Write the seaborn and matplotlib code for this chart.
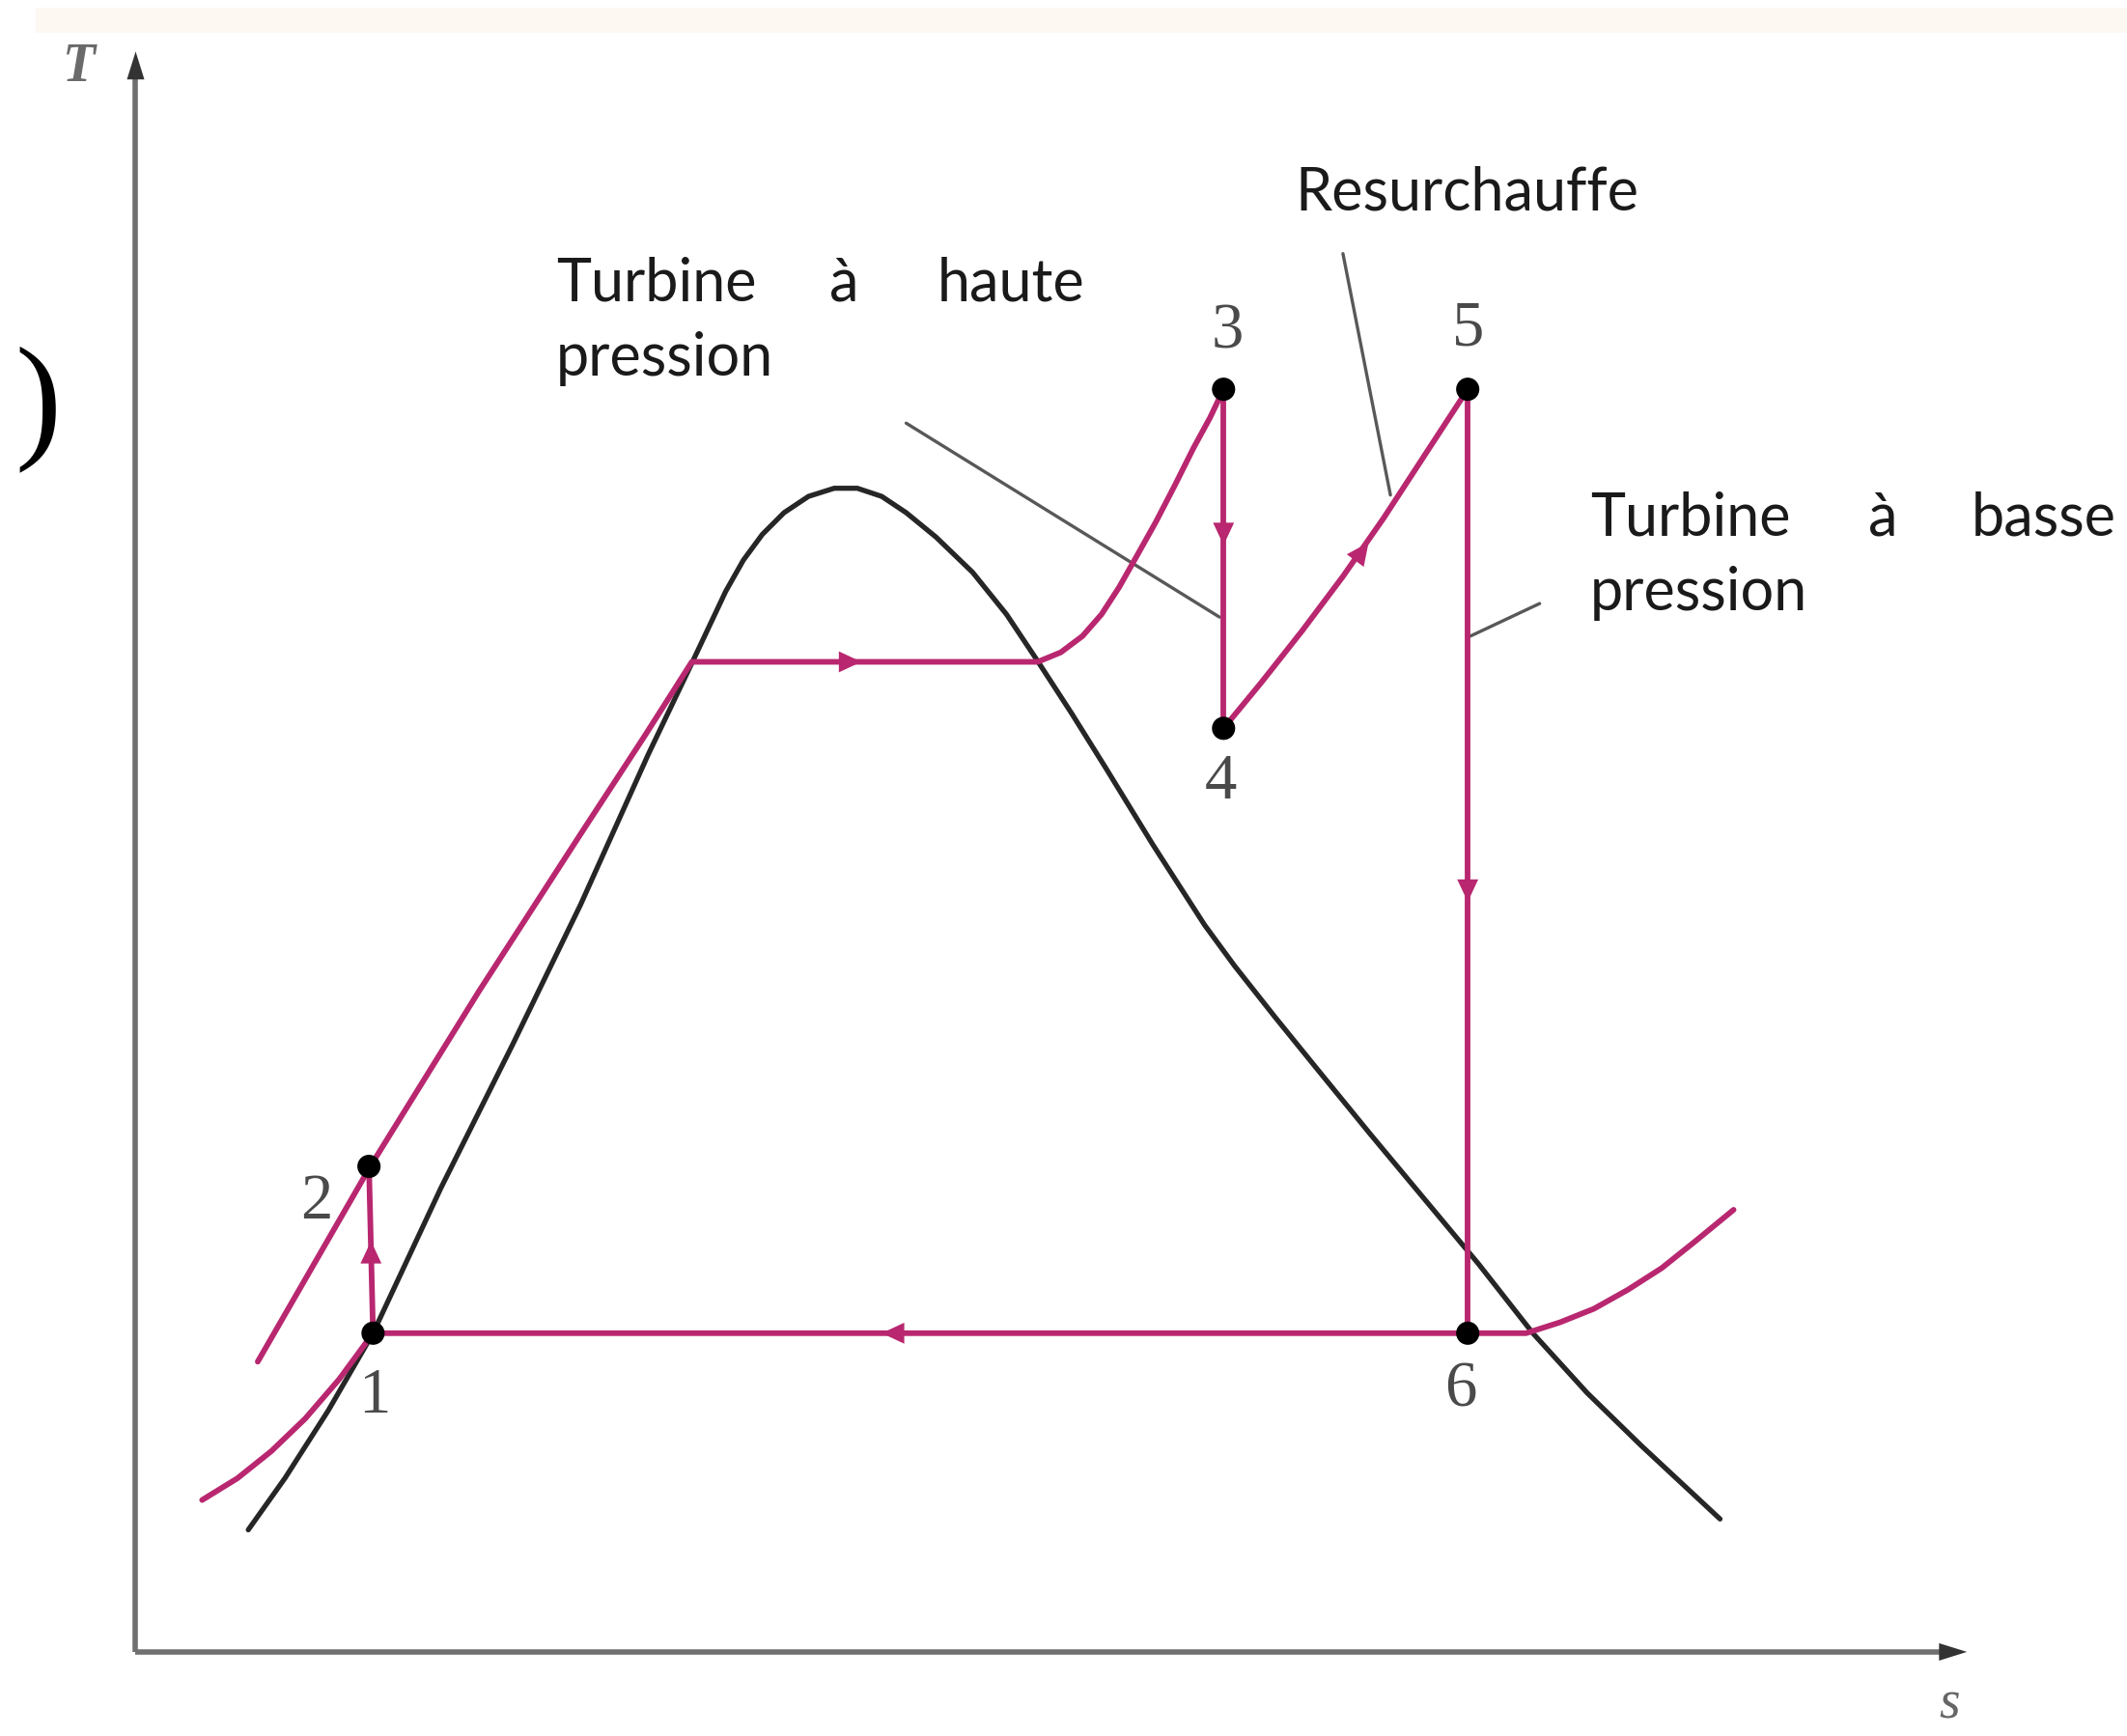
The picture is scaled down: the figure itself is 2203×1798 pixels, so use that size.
import matplotlib
matplotlib.use('Agg')
import matplotlib.pyplot as plt
import seaborn as sns
import numpy as np

# ===== data (s, T), arbitrary units =====
# saturation dome
dome_s = [0.83, 1.10, 1.42, 1.75, 2.25, 2.78, 3.28, 3.78, 4.10, 4.35, 4.48, 4.62, 4.78,
          4.96, 5.15, 5.32, 5.50, 5.68, 5.90, 6.17, 6.42, 6.64, 6.90, 7.15, 7.50, 7.88,
          8.10, 8.40, 8.70, 9.10, 9.50, 9.90, 10.30, 10.70, 11.10, 11.68]
dome_T = [0.90, 1.28, 1.78, 2.35, 3.42, 4.48, 5.51, 6.62, 7.29, 7.82, 8.05, 8.24, 8.40,
          8.52, 8.58, 8.58, 8.52, 8.40, 8.22, 7.96, 7.65, 7.32, 6.92, 6.52, 5.95, 5.36,
          5.06, 4.68, 4.31, 3.82, 3.34, 2.86, 2.35, 1.91, 1.52, 0.98]

# high pressure line: compressed liquid -> evaporation -> superheat up to 3
hp_s = [0.90, 1.73, 2.53, 3.28, 3.75, 4.10, 6.65, 6.82, 6.98, 7.12, 7.25, 7.38,
        7.52, 7.66, 7.80, 7.92, 8.02]
hp_T = [2.14, 3.58, 4.87, 6.03, 6.75, 7.30, 7.30, 7.37, 7.49, 7.65, 7.85, 8.08,
        8.33, 8.60, 8.88, 9.10, 9.31]

# reheat 4 -> 5
rh_s = [8.02, 8.30, 8.60, 8.90, 9.20, 9.50, 9.82]
rh_T = [6.81, 7.15, 7.53, 7.93, 8.36, 8.82, 9.31]

# condenser pressure line (through 1 and 6)
lp_s = [0.49, 0.75, 1.00, 1.25, 1.50, 1.75, 10.25, 10.50, 10.75, 11.00, 11.25, 11.50, 11.78]
lp_T = [1.12, 1.28, 1.48, 1.72, 2.01, 2.35, 2.35, 2.43, 2.53, 2.67, 2.83, 3.03, 3.26]

# state points 1..6
state_lbl = ['1', '2', '3', '4', '5', '6']
state_s = [1.75, 1.72, 8.02, 8.02, 9.82, 9.82]
state_T = [2.35, 3.58, 9.31, 6.81, 9.31, 2.35]
lbl_s = [1.76, 1.33, 8.05, 8.00, 9.82, 9.77]
lbl_T = [1.88, 3.31, 9.73, 6.41, 9.75, 1.93]

# pump 1-2, HP turbine 3-4, LP turbine 5-6
vert_pairs = [(0, 1), (2, 3), (4, 5)]

# direction arrows on the cycle: position and direction
arr_s = [1.735, 5.25, 8.02, 9.03, 9.82, 5.60]
arr_T = [2.93, 7.30, 8.26, 8.10, 5.63, 2.35]
arr_ds = [0.0, 1.0, 0.0, 0.7, 0.0, -1.0]
arr_dT = [1.0, 0.0, -1.0, 0.95, -1.0, 0.0]

# leader lines for the annotations
lead_s = [(5.68, 7.99), (8.90, 9.25), (9.84, 10.35)]
lead_T = [(9.06, 7.63), (10.31, 8.53), (7.49, 7.73)]

PINK = '#b8276f'
DARK = '#262626'
GREY = '#585858'

sns.set_theme(style='white')
plt.rcParams['font.family'] = ['Lato', 'DejaVu Sans']

fig = plt.figure(figsize=(22.03, 17.98), dpi=100)
ax = fig.add_axes([0, 0, 1, 1])
ax.set_xlim(-1.0, 14.68)
ax.set_ylim(-0.62, 12.18)
ax.axis('off')

# pale strip at the top of the scan
ax.axhspan(11.94, 12.12, xmin=0.017, xmax=1.0, color='#fdf8f2', lw=0, zorder=0)

# axes with arrows
ax.plot([0, 0], [0, 11.6], color='#707070', lw=4, solid_capstyle='butt', zorder=1)
ax.plot([0, 13.3], [0, 0], color='#707070', lw=4, solid_capstyle='butt', zorder=1)
head = dict(arrowstyle='-|>,head_length=0.8,head_width=0.25', color='#333333',
            lw=0, mutation_scale=26, shrinkA=0, shrinkB=0)
ax.annotate('', xy=(0, 11.8), xytext=(0, 11.4), arrowprops=head)
ax.annotate('', xy=(13.5, 0), xytext=(13.1, 0), arrowprops=head)

# dome and cycle
lw_c = 4.2
sns.lineplot(x=dome_s, y=dome_T, sort=False, estimator=None, color=DARK, lw=3.8, ax=ax, zorder=2)
sns.lineplot(x=lp_s, y=lp_T, sort=False, estimator=None, color=PINK, lw=lw_c, ax=ax, zorder=3)
sns.lineplot(x=hp_s, y=hp_T, sort=False, estimator=None, color=PINK, lw=lw_c, ax=ax, zorder=3)
sns.lineplot(x=rh_s, y=rh_T, sort=False, estimator=None, color=PINK, lw=lw_c, ax=ax, zorder=3)
for a, b in vert_pairs:
    ax.plot([state_s[a], state_s[b]], [state_T[a], state_T[b]], color=PINK, lw=lw_c, zorder=3)

small = dict(arrowstyle='-|>,head_length=0.6,head_width=0.28', color=PINK,
             lw=0, mutation_scale=28, shrinkA=0, shrinkB=0)
for s0, t0, ds, dt in zip(arr_s, arr_T, arr_ds, arr_dT):
    n = np.hypot(ds, dt)
    ax.annotate('', xy=(s0 + 0.1 * ds / n, t0 + 0.1 * dt / n),
                xytext=(s0 - 0.12 * ds / n, t0 - 0.12 * dt / n), arrowprops=small, zorder=4)

# leader lines
for xs, ys in zip(lead_s, lead_T):
    ax.plot(xs, ys, color=GREY, lw=2.4, zorder=2)

# state points
sns.scatterplot(x=state_s, y=state_T, color='black', s=300, edgecolor='none', ax=ax, zorder=5)
for lab, x, y in zip(state_lbl, lbl_s, lbl_T):
    ax.text(x, y, lab, ha='center', va='center', fontsize=48, color='#4a4a4a',
            family='Liberation Serif')

# axis letters
ax.text(-0.42, 11.68, 'T', ha='center', va='center', fontsize=40, style='italic',
        weight='bold', color='#6a6a6a', family='Liberation Serif')
ax.text(13.37, -0.39, 's', ha='center', va='center', fontsize=40, style='italic',
        color='#666666', family='Liberation Serif')
ax.text(-0.72, 9.16, ')', ha='center', va='center', fontsize=104, color='black',
        family='Liberation Serif')

# annotations (justified lines)
fs = 44
ax.text(3.10, 9.96, 'Turbine', ha='left', va='baseline', fontsize=fs, color='#1a1a1a')
ax.text(5.22, 9.96, 'à', ha='center', va='baseline', fontsize=fs, color='#1a1a1a')
ax.text(7.00, 9.96, 'haute', ha='right', va='baseline', fontsize=fs, color='#1a1a1a')
ax.text(3.10, 9.41, 'pression', ha='left', va='baseline', fontsize=fs, color='#1a1a1a')
ax.text(8.55, 10.63, 'Resurchauffe', ha='left', va='baseline', fontsize=fs, color='#1a1a1a')
ax.text(10.72, 8.23, 'Turbine', ha='left', va='baseline', fontsize=fs, color='#1a1a1a')
ax.text(12.88, 8.23, 'à', ha='center', va='baseline', fontsize=fs, color='#1a1a1a')
ax.text(14.60, 8.23, 'basse', ha='right', va='baseline', fontsize=fs, color='#1a1a1a')
ax.text(10.72, 7.68, 'pression', ha='left', va='baseline', fontsize=fs, color='#1a1a1a')

fig.savefig('out.png', dpi=100, facecolor='white')
print("Saved: out.png")
